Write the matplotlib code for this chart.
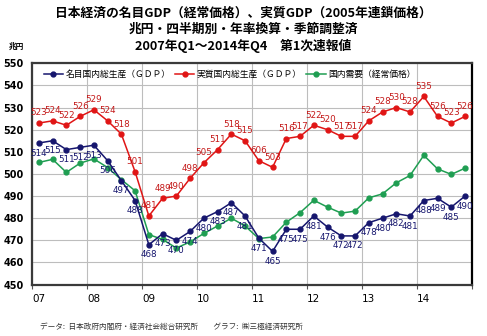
import matplotlib
matplotlib.use("Agg")
import matplotlib.pyplot as plt
import numpy as np

plt.rcParams['font.family'] = ['Noto Sans CJK JP', 'DejaVu Sans']

# 2007Q1 ~ 2014Q4, 兆円
years = ["07", "08", "09", "10", "11", "12", "13", "14"]
nominal_gdp = [514, 515, 511, 512, 513, 506, 497, 488,
               468, 473, 470, 474, 480, 483, 487, 481,
               471, 465, 475, 475, 481, 476, 472, 472,
               478, 480, 482, 481, 488, 489, 485, 490]
real_gdp = [523, 524, 522, 526, 529, 524, 518, 501,
            481, 489, 490, 498, 505, 511, 518, 515,
            506, 503, 516, 517, 522, 520, 517, 517,
            524, 528, 530, 528, 535, 526, 523, 526]
# 元グラフのラベル表記のまま（2011Q1 は "606" と表示されている）
real_labels = ["523", "524", "522", "526", "529", "524", "518", "501",
               "481", "489", "490", "498", "505", "511", "518", "515",
               "606", "503", "516", "517", "522", "520", "517", "517",
               "524", "528", "530", "528", "535", "526", "523", "526"]
domestic_demand = [505.2, 506.6, 500.7, 504.9, 506.8, 502.9, 497.4, 492.4,
                   472.6, 470.4, 466.5, 469.3, 473.1, 476.5, 480.0, 476.5,
                   470.8, 471.5, 478.2, 482.5, 488.1, 485.0, 482.3, 483.2,
                   489.2, 491.0, 496.0, 499.3, 508.4, 502.3, 499.8, 502.6]

NAVY = "#16166e"
RED = "#e01515"
GREEN = "#1f9e52"

x = np.arange(len(nominal_gdp))

fig = plt.figure(figsize=(4.87, 3.36), dpi=100)
ax = fig.add_axes([0.0657, 0.153, 0.9033, 0.6586])

ax.plot(x, nominal_gdp, color=NAVY, lw=1.1, marker="o", ms=3.5,
        label="名目国内総生産（ＧＤＰ）", zorder=4)
ax.plot(x, real_gdp, color=RED, lw=1.1, marker="o", ms=3.5,
        label="実質国内総生産（ＧＤＰ）", zorder=4)
ax.plot(x, domestic_demand, color=GREEN, lw=1.1, marker="o", ms=3.5,
        label="国内需要（経常価格）", zorder=3)

for xi, v, s in zip(x, real_gdp, real_labels):
    ax.annotate(s, (xi, v), xytext=(0, 4), textcoords="offset points",
                ha="center", va="bottom", fontsize=6.3, color="#c41818",
                family="DejaVu Sans", zorder=5)
for xi, v in zip(x, nominal_gdp):
    ax.annotate(str(v), (xi, v), xytext=(0, -4), textcoords="offset points",
                ha="center", va="top", fontsize=6.3, color=NAVY,
                family="DejaVu Sans", zorder=5)

ax.set_xlim(-0.5, len(x) - 0.5)
ax.set_ylim(450, 550)
ax.set_yticks(np.arange(450, 551, 10))
ax.tick_params(axis="y", length=0, labelsize=7, pad=6)
for lab in ax.get_yticklabels():
    lab.set_family("DejaVu Sans")
    lab.set_fontweight("bold")

ax.set_xticks(np.arange(-0.5, len(x), 4))
ax.set_xticklabels([])
ax.set_xticks(np.arange(0, len(x), 4), minor=True)
ax.set_xticklabels(years, minor=True, fontsize=7.5, family="DejaVu Sans")
ax.tick_params(axis="x", which="major", length=3, color="#555555")
ax.tick_params(axis="x", which="minor", length=0, pad=7)

ax.grid(True, which="major", color="#bdbdbd", lw=0.8)
ax.set_axisbelow(True)
for sp in ax.spines.values():
    sp.set_linewidth(1.6)
    sp.set_color("#3a3a3a")
ax.spines["right"].set_color("black")

ax.legend(loc="upper left", bbox_to_anchor=(0.015, 0.995), ncol=3, frameon=False,
          fontsize=6.3, handlelength=2.2, columnspacing=0.5, handletextpad=0.3,
          borderaxespad=0.2)

fig.text(0.5, 0.962, "日本経済の名目GDP（経常価格）、実質GDP（2005年連鎖価格）",
         ha="center", va="center", fontsize=9.2, fontweight="bold")
fig.text(0.5, 0.912, "兆円・四半期別・年率換算・季節調整済",
         ha="center", va="center", fontsize=9.2, fontweight="bold")
fig.text(0.5, 0.862, "2007年Q1～2014年Q4　第1次速報値",
         ha="center", va="center", fontsize=9.2, fontweight="bold")
fig.text(0.018, 0.862, "兆円", ha="left", va="center", fontsize=5.5, fontweight="bold")
fig.text(0.082, 0.027, "データ:  日本政府内閣府・経済社会総合研究所　　グラフ:  ㈱三極経済研究所",
         ha="left", va="center", fontsize=5.5, color="#333333")

fig.savefig("out.png", dpi=100)
